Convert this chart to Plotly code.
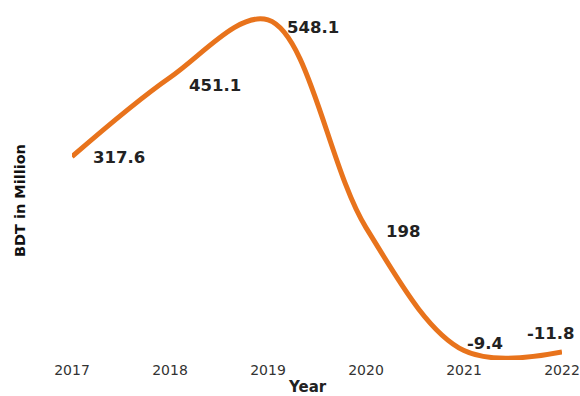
import plotly.graph_objects as go

years = ["2017", "2018", "2019", "2020", "2021", "2022"]
values = [317.6, 451.1, 548.1, 198, -9.4, -11.8]
labels = ["317.6", "451.1", "548.1", "198", "-9.4", "-11.8"]

# label offsets (style only)
label_dx = [19, 17, 17, 18, 1, -37]
label_dy = [-1, -8, -8, -4, 7, 18]

LINE = "#E8731C"
FONT = "DejaVu Sans, Verdana, sans-serif"

fig = go.Figure()
fig.add_trace(go.Scatter(
    x=list(range(len(years))), y=values, mode="lines",
    line=dict(color=LINE, width=5, shape="spline", smoothing=1),
    hoverinfo="skip", showlegend=False,
))

for i, (v, t) in enumerate(zip(values, labels)):
    fig.add_annotation(
        x=i, y=v, text="<b>" + t + "</b>", showarrow=False,
        xanchor="left", yanchor="middle",
        xshift=label_dx[i], yshift=label_dy[i],
        font=dict(family=FONT, size=16.5, color="#222222"),
    )

fig.add_annotation(
    xref="paper", yref="paper", x=-0.128, y=0.455,
    text="<b>BDT in Million</b>", textangle=-90, showarrow=False,
    font=dict(family=FONT, size=14.5, color="#111111"),
)

fig.add_annotation(
    xref="paper", yref="paper", x=0.48, y=-0.076,
    xanchor="center", yanchor="middle",
    text="<b>Year</b>", showarrow=False,
    font=dict(family=FONT, size=15, color="#222222"),
)

fig.update_layout(
    width=580, height=396,
    margin=dict(l=72, r=18, t=10, b=36, autoexpand=False),
    paper_bgcolor="white", plot_bgcolor="white",
    xaxis=dict(
        tickmode="array", tickvals=list(range(len(years))), ticktext=years,
        range=[0, len(years) - 1], showgrid=False, zeroline=False,
        showline=False, ticks="", automargin=False,
        tickfont=dict(family=FONT, size=14, color="#333333"),
    ),
    yaxis=dict(
        range=[-25.3, 564.9], showgrid=False, zeroline=False,
        showline=False, showticklabels=False, ticks="", automargin=False,
    ),
)

fig.write_html("out.html")
